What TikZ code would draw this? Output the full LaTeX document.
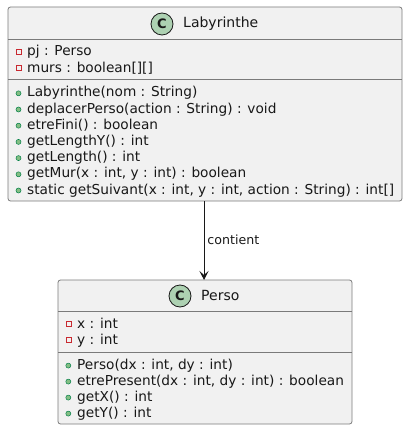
\documentclass[tikz,border=0pt]{standalone}
\usepackage{fontspec}
\setmainfont{DejaVu Sans}
\usetikzlibrary{arrows.meta}
\definecolor{boxfill}{HTML}{F1F1F1}
\definecolor{boxline}{HTML}{7A7A7A}
\definecolor{cfill}{HTML}{ADD1B2}
\definecolor{ink}{HTML}{181818}
\definecolor{privred}{HTML}{C82930}
\definecolor{pubfill}{HTML}{84BE84}
\definecolor{publine}{HTML}{038048}
\tikzset{
  x=1pt,y=-1pt,
  classbox/.style={draw=boxline,fill=boxfill,line width=0.8pt,rounded corners=2.5pt},
  sep/.style={draw=boxline,line width=0.8pt},
  member/.style={anchor=base west,inner sep=0pt,font=\fontsize{13.7}{16}\selectfont,text=ink},
  title/.style={anchor=base west,inner sep=0pt,font=\fontsize{14}{16}\selectfont,text=ink},
  cicon/.style={circle,draw=ink,fill=cfill,line width=0.8pt,minimum size=22pt,inner sep=0pt,font=\bfseries\fontsize{13}{13}\selectfont,text=ink},
  privmark/.style={draw=privred,line width=0.8pt,fill=none,minimum size=5pt,inner sep=0pt},
  pubmark/.style={circle,draw=publine,fill=pubfill,line width=0.5pt,minimum size=5pt,inner sep=0pt},
  link/.style={draw=ink,line width=0.9pt,-{Stealth[length=9pt,width=9pt,inset=4pt]}},
  lbl/.style={anchor=base west,inner sep=0pt,font=\fontsize{12.6}{14}\selectfont,text=ink}
}
\begin{document}
\begin{tikzpicture}
\useasboundingbox (0,0) rectangle (408,430);
% Labyrinthe
\draw[classbox] (8,7) rectangle (402,201);
\coordinate (labbot) at (204,201);
\draw[sep] (8,39) -- (402,39);
\draw[sep] (8,79) -- (402,79);
\node[cicon] (labc) at (162,24) {C};
\node[title] (labt) at (183,28) {Labyrinthe};
\node[privmark,rectangle] (la1m) at (18.7,51.7) {};
\node[member] (la1) at (27,56) {pj : Perso};
\node[privmark,rectangle] (la2m) at (18.7,67.9) {};
\node[member] (la2) at (27,72.2) {murs : boolean[][]};
\foreach \i/\t in {0/{Labyrinthe(nom : String)},1/{deplacerPerso(action : String) : void},2/{etreFini() : boolean},3/{getLengthY() : int},4/{getLength() : int},5/{getMur(x : int, y : int) : boolean},6/{static getSuivant(x : int, y : int, action : String) : int[]}}{
  \node[pubmark] (lm\i m) at (18.5,93.3+16.2*\i) {};
  \node[member] (lm\i) at (27,97+16.2*\i) {\t};
}
% Perso
\draw[classbox] (58,280) rectangle (352,424);
\coordinate (pertop) at (204,280);
\draw[sep] (58,311) -- (352,311);
\draw[sep] (58,352) -- (352,352);
\node[cicon] (perc) at (180,296) {C};
\node[title] (pert) at (201,300) {Perso};
\node[privmark,rectangle] (pa1m) at (68.5,324) {};
\node[member] (pa1) at (77,328.3) {x : int};
\node[privmark,rectangle] (pa2m) at (68.5,340) {};
\node[member] (pa2) at (77,344.3) {y : int};
\foreach \i/\t in {0/{Perso(dx : int, dy : int)},1/{etrePresent(dx : int, dy : int) : boolean},2/{getX() : int},3/{getY() : int}}{
  \node[pubmark] (pm\i m) at (68.3,365.6+16*\i) {};
  \node[member] (pm\i) at (77,369.3+16*\i) {\t};
}
% connector
\draw[link] (labbot) -- (pertop) node[pos=0.55,lbl,xshift=3pt] (clab) {contient};
\end{tikzpicture}
\end{document}
